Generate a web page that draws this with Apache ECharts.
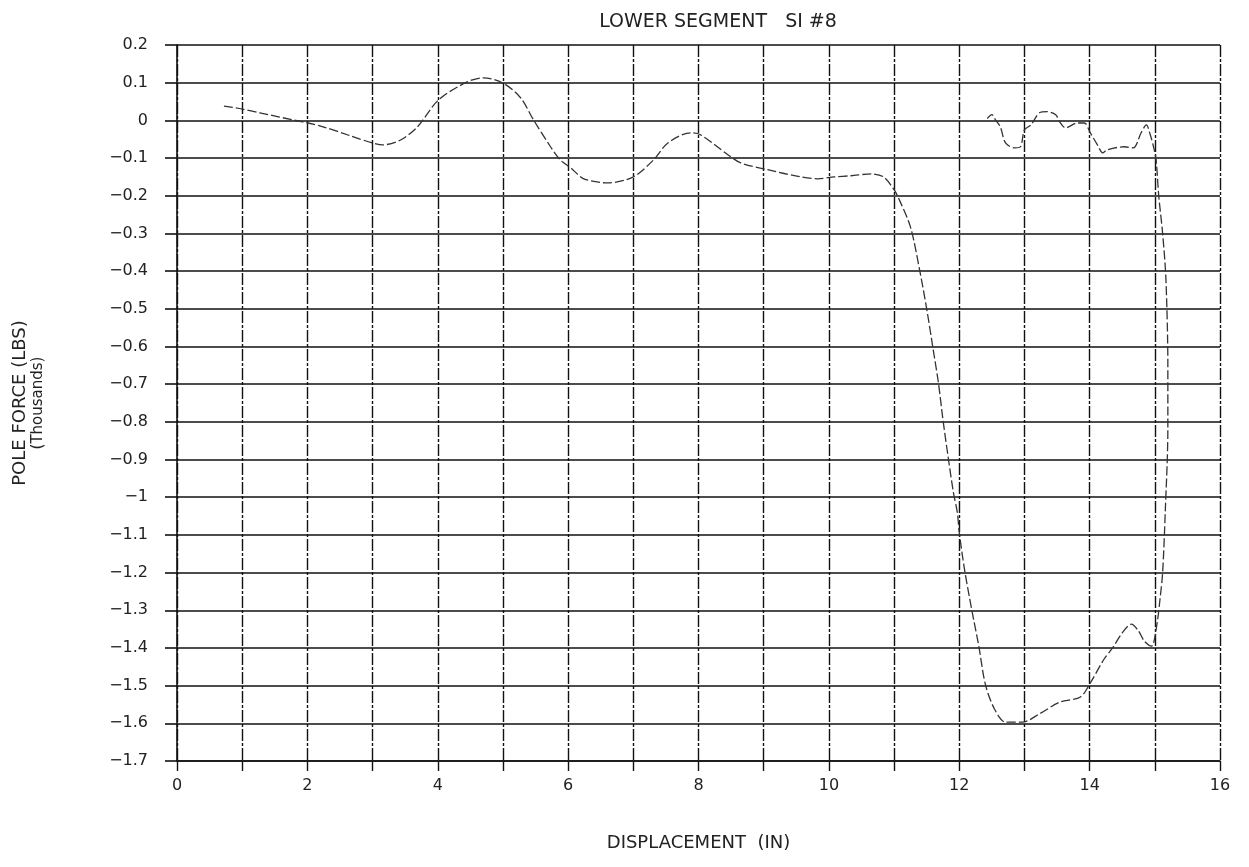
<!DOCTYPE html>
<html>
<head>
<meta charset="utf-8">
<script src="https://cdn.jsdelivr.net/npm/echarts@6/dist/echarts.min.js"></script>
<style>html,body{margin:0;padding:0;background:#fff}#c{width:1249px;height:867px}</style>
</head>
<body>
<div id="c"></div>
<script>
const xTickLabels = ['0','2','4','6','8','10','12','14','16'];
const yTickLabels = ['0.2','0.1','0','\u22120.1','\u22120.2','\u22120.3','\u22120.4','\u22120.5','\u22120.6','\u22120.7','\u22120.8','\u22120.9','\u22121','\u22121.1','\u22121.2','\u22121.3','\u22121.4','\u22121.5','\u22121.6','\u22121.7'];

const displacement = [0.72,1.0,1.27,1.84,2.01,2.24,2.66,3.0,3.16,3.43,3.69,4.01,4.45,4.7,5.0,5.27,5.47,5.73,5.88,6.04,6.24,6.61,7.0,7.31,7.53,7.88,8.03,8.45,8.65,9.06,9.57,9.83,10.08,10.34,10.65,10.84,11.0,11.06,11.25,11.4,11.51,11.6,11.68,11.75,11.83,11.91,11.97,12.0,12.08,12.19,12.3,12.4,12.54,12.71,12.97,13.23,13.54,13.86,14.02,14.22,14.36,14.5,14.64,14.75,14.84,14.95,15.03,15.08,15.12,15.16,15.2,15.2,15.17,15.12,15.06,15.02,14.98,14.93,14.87,14.79,14.67,14.53,14.27,14.2,14.12,14.01,13.92,13.81,13.63,13.54,13.48,13.35,13.23,13.1,13.0,12.94,12.85,12.71,12.63,12.56,12.5,12.43];
const poleForce = [0.038,0.030,0.020,-0.001,-0.007,-0.017,-0.041,-0.060,-0.065,-0.052,-0.017,0.054,0.102,0.113,0.099,0.060,0.001,-0.070,-0.105,-0.126,-0.155,-0.166,-0.150,-0.105,-0.060,-0.033,-0.038,-0.091,-0.113,-0.131,-0.150,-0.155,-0.150,-0.147,-0.142,-0.150,-0.184,-0.203,-0.282,-0.404,-0.51,-0.608,-0.696,-0.794,-0.894,-0.987,-1.04,-1.093,-1.191,-1.297,-1.395,-1.496,-1.562,-1.597,-1.597,-1.575,-1.544,-1.53,-1.49,-1.43,-1.398,-1.36,-1.337,-1.355,-1.382,-1.395,-1.34,-1.27,-1.2,-1.04,-0.82,-0.65,-0.42,-0.3,-0.2,-0.105,-0.07,-0.038,-0.012,-0.033,-0.073,-0.07,-0.078,-0.086,-0.065,-0.033,-0.007,-0.007,-0.02,-0.004,0.015,0.023,0.02,-0.012,-0.025,-0.07,-0.073,-0.06,-0.017,0.0,0.015,0.005];

const titleText = 'LOWER SEGMENT   SI #8';
const xName = 'DISPLACEMENT  (IN)';
const yName1 = 'POLE FORCE (LBS)';
const yName2 = '(Thousands)';

const pts = displacement.map((x, i) => [x, poleForce[i]]);
const font = '"DejaVu Sans", sans-serif';
const chart = echarts.init(document.getElementById('c'), null, {renderer: 'canvas'});
chart.setOption({
  animation: false,
  backgroundColor: '#fff',
  title: {
    text: titleText, left: 713, top: 8, textAlign: 'center',
    textStyle: {fontFamily: font, fontSize: 19, fontWeight: 'normal', color: '#222'}
  },
  grid: {left: 177, right: 29, top: 45, bottom: 106, containLabel: false},
  xAxis: {
    type: 'value', min: 0, max: 16, interval: 1,
    name: xName, nameLocation: 'middle', nameGap: 73,
    nameTextStyle: {fontFamily: font, fontSize: 18, color: '#222'},
    axisLine: {show: true, onZero: false, lineStyle: {color: '#111', width: 1.6}},
    axisTick: {show: true, length: 10, lineStyle: {color: '#111', width: 1.4, type: [10, 2, 3, 2]}},
    axisLabel: {
      margin: 17, fontFamily: font, fontSize: 16, color: '#222',
      formatter: v => (Math.round(v) % 2 === 0 ? xTickLabels[Math.round(v) / 2] : '')
    },
    splitLine: {show: true, lineStyle: {color: '#111', width: 1.4, type: [12, 2, 3, 2]}}
  },
  yAxis: {
    type: 'value', min: -1.7, max: 0.2, interval: 0.1,
    name: '{a|' + yName1 + '}\n{b|' + yName2 + '}', nameLocation: 'middle', nameGap: 131, nameRotate: 90,
    nameTextStyle: {
      fontFamily: font, color: '#222', align: 'center',
      rich: {a: {fontFamily: font, fontSize: 18, color: '#222', lineHeight: 20}, b: {fontFamily: font, fontSize: 15, color: '#222', lineHeight: 16}}
    },
    axisLine: {show: true, onZero: false, lineStyle: {color: '#111', width: 1.6}},
    axisTick: {show: true, length: 12, lineStyle: {color: '#111', width: 1.6}},
    axisLabel: {
      margin: 29, fontFamily: font, fontSize: 16, color: '#222',
      formatter: v => yTickLabels[Math.round((0.2 - v) * 10)]
    },
    splitLine: {show: true, lineStyle: {color: '#111', width: 1.6}}
  },
  series: [{
    type: 'line', data: pts, showSymbol: false, smooth: 0.3,
    lineStyle: {color: '#333', width: 1.3, type: [9, 3]}
  }]
});
</script>
</body>
</html>
